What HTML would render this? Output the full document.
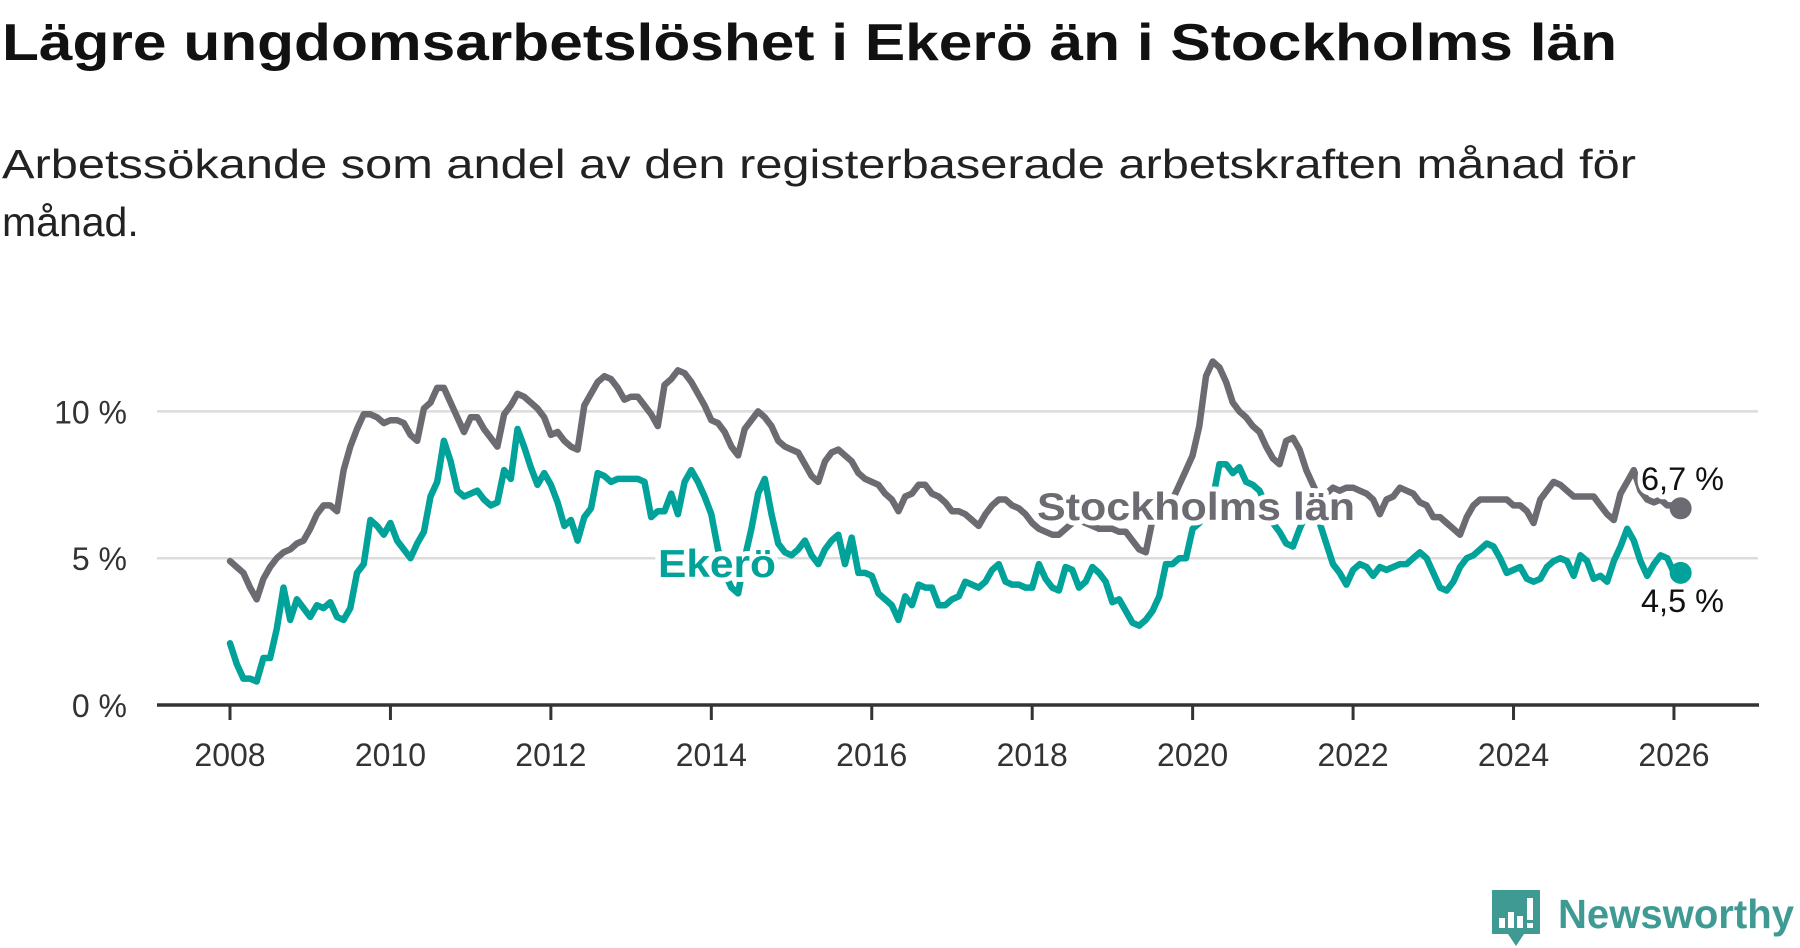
<!DOCTYPE html>
<html><head><meta charset="utf-8"><style>
html,body{margin:0;padding:0;background:#fff;}
svg{display:block;font-family:"Liberation Sans",sans-serif;}
</style></head><body>
<svg width="1800" height="948" viewBox="0 0 1800 948">
<text x="2" y="60" font-size="52" font-weight="bold" fill="#111" textLength="1615" lengthAdjust="spacingAndGlyphs">Lägre ungdomsarbetslöshet i Ekerö än i Stockholms län</text>
<text x="2" y="178" font-size="41" fill="#222" textLength="1634" lengthAdjust="spacingAndGlyphs">Arbetssökande som andel av den registerbaserade arbetskraften månad för</text>
<text x="2" y="236" font-size="41" fill="#222">månad.</text>
<g id="grid"></g><g id="axes"></g><g id="lines"></g><g id="labels"></g>
<g>
<path d="M1492 890 h48 v44 h-16 l-8 12 l-8 -12 h-16 z" fill="#3f9a94"/>
<rect x="1499" y="918" width="6" height="10" fill="#fff"/><rect x="1508" y="912" width="6" height="16" fill="#fff"/><rect x="1517" y="916" width="6" height="12" fill="#fff"/><rect x="1527" y="898" width="6" height="22" fill="#fff"/><rect x="1527" y="923" width="6" height="5" fill="#fff"/>
<text x="1558" y="928" font-size="41" font-weight="bold" fill="#3f9a94" textLength="236" lengthAdjust="spacingAndGlyphs">Newsworthy</text>
</g>
</svg>
<script>
const yTicks=[0,5,10];
const yTickLabels=["0 %","5 %","10 %"];
const xYears=[2008,2010,2012,2014,2016,2018,2020,2022,2024,2026];
const stockholm=[4.9,4.7,4.5,4.0,3.6,4.3,4.7,5.0,5.2,5.3,5.5,5.6,
6.0,6.5,6.8,6.8,6.6,8.0,8.8,9.4,9.9,9.9,9.8,9.6,
9.7,9.7,9.6,9.2,9.0,10.1,10.3,10.8,10.8,10.3,9.8,9.3,
9.8,9.8,9.4,9.1,8.8,9.9,10.2,10.6,10.5,10.3,10.1,9.8,
9.2,9.3,9.0,8.8,8.7,10.2,10.6,11.0,11.2,11.1,10.8,10.4,
10.5,10.5,10.2,9.9,9.5,10.9,11.1,11.4,11.3,11.0,10.6,10.2,
9.7,9.6,9.3,8.8,8.5,9.4,9.7,10.0,9.8,9.5,9.0,8.8,
8.7,8.6,8.2,7.8,7.6,8.3,8.6,8.7,8.5,8.3,7.9,7.7,
7.6,7.5,7.2,7.0,6.6,7.1,7.2,7.5,7.5,7.2,7.1,6.9,
6.6,6.6,6.5,6.3,6.1,6.5,6.8,7.0,7.0,6.8,6.7,6.5,
6.2,6.0,5.9,5.8,5.8,6.0,6.2,6.3,6.2,6.1,6.0,6.0,
6.0,5.9,5.9,5.6,5.3,5.2,6.3,6.6,6.8,7.0,7.5,8.0,
8.5,9.5,11.2,11.7,11.5,11.0,10.3,10.0,9.8,9.5,9.3,8.8,
8.4,8.2,9.0,9.1,8.7,8.0,7.5,7.0,7.2,7.4,7.3,7.4,
7.4,7.3,7.2,7.0,6.5,7.0,7.1,7.4,7.3,7.2,6.9,6.8,
6.4,6.4,6.2,6.0,5.8,6.4,6.8,7.0,7.0,7.0,7.0,7.0,
6.8,6.8,6.6,6.2,7.0,7.3,7.6,7.5,7.3,7.1,7.1,7.1,
7.1,6.8,6.5,6.3,7.2,7.6,8.0,7.3,7.0,6.9,7.0,6.8,
6.8,6.7];
const ekero=[2.1,1.4,0.9,0.9,0.8,1.6,1.6,2.6,4.0,2.9,3.6,3.3,
3.0,3.4,3.3,3.5,3.0,2.9,3.3,4.5,4.8,6.3,6.1,5.8,
6.2,5.6,5.3,5.0,5.5,5.9,7.1,7.6,9.0,8.3,7.3,7.1,
7.2,7.3,7.0,6.8,6.9,8.0,7.7,9.4,8.8,8.1,7.5,7.9,
7.5,6.9,6.1,6.3,5.6,6.4,6.7,7.9,7.8,7.6,7.7,7.7,
7.7,7.7,7.6,6.4,6.6,6.6,7.2,6.5,7.6,8.0,7.6,7.1,
6.5,5.3,4.5,4.0,3.8,5.0,6.0,7.2,7.7,6.5,5.5,5.2,
5.1,5.3,5.6,5.1,4.8,5.3,5.6,5.8,4.8,5.7,4.5,4.5,
4.4,3.8,3.6,3.4,2.9,3.7,3.4,4.1,4.0,4.0,3.4,3.4,
3.6,3.7,4.2,4.1,4.0,4.2,4.6,4.8,4.2,4.1,4.1,4.0,
4.0,4.8,4.3,4.0,3.9,4.7,4.6,4.0,4.2,4.7,4.5,4.2,
3.5,3.6,3.2,2.8,2.7,2.9,3.2,3.7,4.8,4.8,5.0,5.0,
6.0,6.2,6.5,7.0,8.2,8.2,7.9,8.1,7.6,7.5,7.3,6.8,
6.2,5.9,5.5,5.4,6.0,6.5,6.8,6.2,5.5,4.8,4.5,4.1,
4.6,4.8,4.7,4.4,4.7,4.6,4.7,4.8,4.8,5.0,5.2,5.0,
4.5,4.0,3.9,4.2,4.7,5.0,5.1,5.3,5.5,5.4,5.0,4.5,
4.6,4.7,4.3,4.2,4.3,4.7,4.9,5.0,4.9,4.4,5.1,4.9,
4.3,4.4,4.2,4.9,5.4,6.0,5.6,4.9,4.4,4.8,5.1,5.0,
4.5,4.5];
const NS="http://www.w3.org/2000/svg";
function X(i){return 230+i*6.685;}
function XY(year){return X((year-2008)*12);}
function Y(v){return 705-v*29.36;}
function mk(tag,attrs,parent){const e=document.createElementNS(NS,tag);for(const k in attrs)e.setAttribute(k,attrs[k]);parent.appendChild(e);return e;}
const grid=document.getElementById('grid'),axes=document.getElementById('axes'),lines=document.getElementById('lines'),labels=document.getElementById('labels');
yTicks.forEach((t,k)=>{
 if(t>0){const g=mk('line',{x1:157,x2:1758,y1:Y(t),y2:Y(t),stroke:'#dcdcdc','stroke-width':2.5},grid);
 
 }
 const tx=mk('text',{x:127,y:Y(t)+12,'font-size':32,fill:'#333','text-anchor':'end'},axes);
 tx.textContent=yTickLabels[k];
 
 
});
const ax=mk('line',{x1:157,x2:1759,y1:705,y2:705,stroke:'#333','stroke-width':3.5},axes);


xYears.forEach(yr=>{
 const x=XY(yr);
 const tk=mk('line',{x1:x,x2:x,y1:705,y2:720,stroke:'#333','stroke-width':3},axes);
 
 
 const tx=mk('text',{x:x,y:766,'font-size':32,fill:'#333','text-anchor':'middle'},axes);
 tx.textContent=yr;
 
 
});
function drawLine(arr,color,name){
 const d=arr.map((v,i)=>(i?'L':'M')+X(i).toFixed(1)+' '+Y(v).toFixed(1)).join(' ');
 const p=mk('path',{d:d,fill:'none',stroke:color,'stroke-width':6.5,'stroke-linejoin':'round','stroke-linecap':'round'},lines);
 
 
 const n=arr.length-1;
 const c=mk('circle',{cx:X(n),cy:Y(arr[n]),r:11,fill:color},lines);
 
 
}
drawLine(stockholm,'#6d6b72','stockholm-line');
drawLine(ekero,'#00a29a','ekero-line');
function lab(txt,x,y,size,color,bold,name,halo,len){
 const t=mk('text',{x:x,y:y,'font-size':size,fill:color,'font-weight':bold?'bold':'normal',stroke:halo?'#fff':'none','stroke-width':halo?10:0,'paint-order':'stroke','stroke-linejoin':'round'},labels);
 if(len){t.setAttribute('textLength',len);t.setAttribute('lengthAdjust','spacingAndGlyphs');}
 t.textContent=txt;
 
 
}
lab('Stockholms län',1037,520,39,'#6d6b72',true,'stockholm-label',true,318);
lab('Ekerö',658,577,39,'#00a29a',true,'ekero-label',true,118);
lab('6,7 %',1641,490,32,'#111',false,'stockholm-end-value',true,83);
lab('4,5 %',1641,612,32,'#111',false,'ekero-end-value',true,83);
</script>
</body></html>
